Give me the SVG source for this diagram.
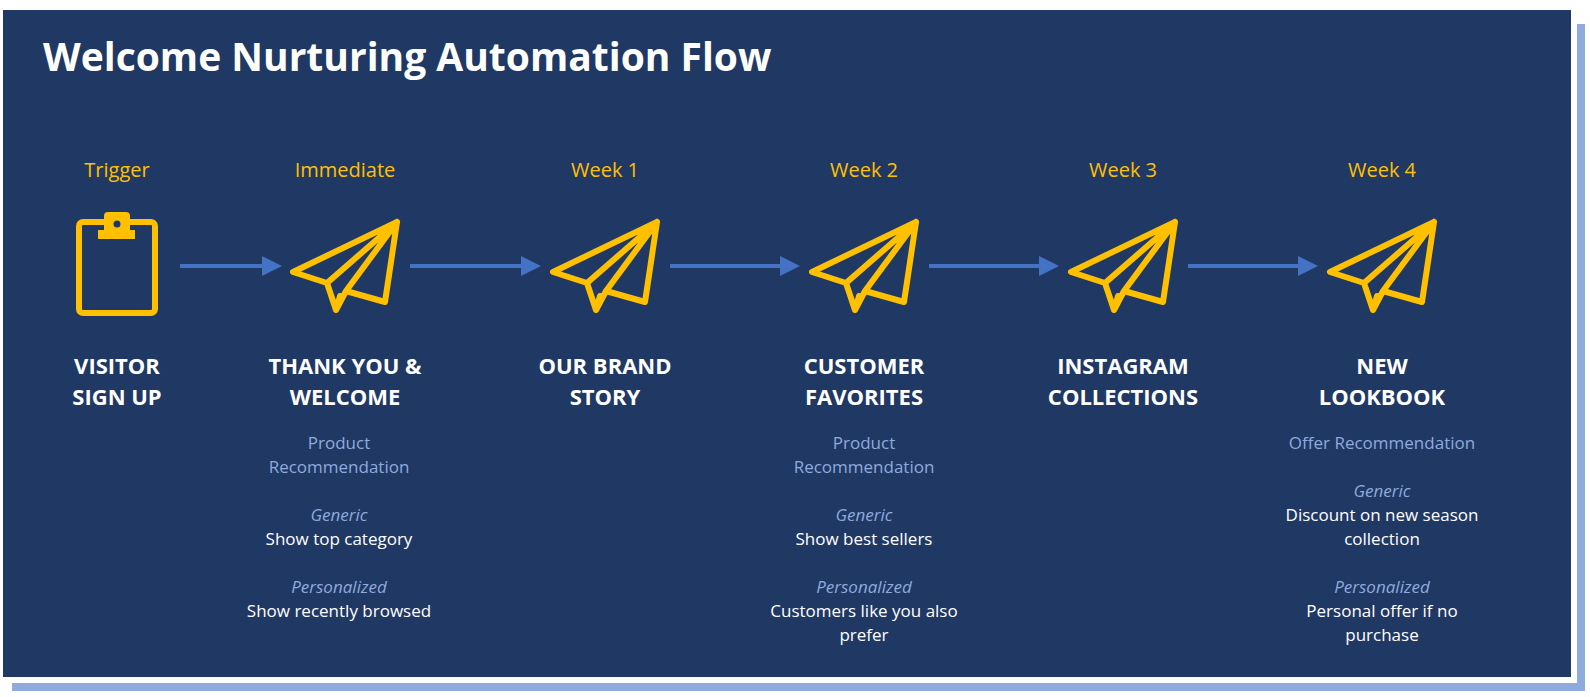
<svg xmlns="http://www.w3.org/2000/svg" width="1590" height="697" viewBox="0 0 1590 697">
<style>
text{font-family:"Open Sans","Noto Sans","Liberation Sans",sans-serif;text-anchor:middle}
.t{fill:#FFC000;font-size:20px}
.h{fill:#fff;font-size:22px;font-weight:bold}
.s{fill:#8FAADC;font-size:17px}
.si{fill:#8FAADC;font-size:17px;font-style:italic}
.w{fill:#fff;font-size:17px}
.ic{fill:none;stroke:#FFC000;stroke-width:6;stroke-linejoin:round;stroke-linecap:round}
.c{stroke:#4472C4;stroke-width:4;fill:none}
</style>
<defs>
<marker id="a" markerWidth="5" markerHeight="5" refX="4" refY="2.5" orient="auto" markerUnits="strokeWidth"><path d="M0,0 L5,2.5 L0,5 Z" fill="#4472C4"/></marker>
<path id="plane" d="M52,-44 L-52,6 L-18,17 L-9,44 L1,25 L40,36 Z M-18,17 L52,-44 M1,25 L52,-44 M-9,44 L-5,30"/>
</defs>
<rect x="12" y="24" width="1573" height="667" fill="#8FAADC"/>
<rect x="0" y="8" width="1577" height="675" fill="#fff"/>
<rect x="3" y="10" width="1568" height="667" fill="#203864"/>
<text x="43" y="71" style="text-anchor:start;fill:#fff;font-size:39px;font-weight:bold">Welcome Nurturing Automation Flow</text>
<g id="connectors">
<line class="c" x1="180" y1="266" x2="278" y2="266" marker-end="url(#a)"/>
<line class="c" x1="410" y1="266" x2="537" y2="266" marker-end="url(#a)"/>
<line class="c" x1="670" y1="266" x2="796" y2="266" marker-end="url(#a)"/>
<line class="c" x1="929" y1="266" x2="1055" y2="266" marker-end="url(#a)"/>
<line class="c" x1="1188" y1="266" x2="1314" y2="266" marker-end="url(#a)"/>
</g>
<g id="n1">
<text class="t" x="117" y="177">Trigger</text>
<rect class="ic" x="79" y="222" width="76" height="91" rx="4"/>
<path d="M104,216 Q104,212 108,212 L126,212 Q130,212 130,216 L130,230 L135,230 L135,239 L98,239 L98,230 L104,230 Z" fill="#FFC000"/>
<circle cx="117" cy="224" r="3.5" fill="#203864"/>
<text class="h" x="117" y="374">VISITOR</text>
<text class="h" x="117" y="405">SIGN UP</text>
</g>
<g id="n2">
<text class="t" x="345" y="177">Immediate</text>
<use href="#plane" class="ic" transform="translate(345,266)"/>
<text class="h" x="345" y="374">THANK YOU &amp;</text>
<text class="h" x="345" y="405">WELCOME</text>
<text class="s" x="339" y="449">Product</text>
<text class="s" x="339" y="473">Recommendation</text>
<text class="si" x="339" y="521">Generic</text>
<text class="w" x="339" y="545">Show top category</text>
<text class="si" x="339" y="593">Personalized</text>
<text class="w" x="339" y="617">Show recently browsed</text>
</g>
<g id="n3">
<text class="t" x="605" y="177">Week 1</text>
<use href="#plane" class="ic" transform="translate(605,266)"/>
<text class="h" x="605" y="374">OUR BRAND</text>
<text class="h" x="605" y="405">STORY</text>
</g>
<g id="n4">
<text class="t" x="864" y="177">Week 2</text>
<use href="#plane" class="ic" transform="translate(864,266)"/>
<text class="h" x="864" y="374">CUSTOMER</text>
<text class="h" x="864" y="405">FAVORITES</text>
<text class="s" x="864" y="449">Product</text>
<text class="s" x="864" y="473">Recommendation</text>
<text class="si" x="864" y="521">Generic</text>
<text class="w" x="864" y="545">Show best sellers</text>
<text class="si" x="864" y="593">Personalized</text>
<text class="w" x="864" y="617">Customers like you also</text>
<text class="w" x="864" y="641">prefer</text>
</g>
<g id="n5">
<text class="t" x="1123" y="177">Week 3</text>
<use href="#plane" class="ic" transform="translate(1123,266)"/>
<text class="h" x="1123" y="374">INSTAGRAM</text>
<text class="h" x="1123" y="405">COLLECTIONS</text>
</g>
<g id="n6">
<text class="t" x="1382" y="177">Week 4</text>
<use href="#plane" class="ic" transform="translate(1382,266)"/>
<text class="h" x="1382" y="374">NEW</text>
<text class="h" x="1382" y="405">LOOKBOOK</text>
<text class="s" x="1382" y="449">Offer Recommendation</text>
<text class="si" x="1382" y="497">Generic</text>
<text class="w" x="1382" y="521">Discount on new season</text>
<text class="w" x="1382" y="545">collection</text>
<text class="si" x="1382" y="593">Personalized</text>
<text class="w" x="1382" y="617">Personal offer if no</text>
<text class="w" x="1382" y="641">purchase</text>
</g>
</svg>
